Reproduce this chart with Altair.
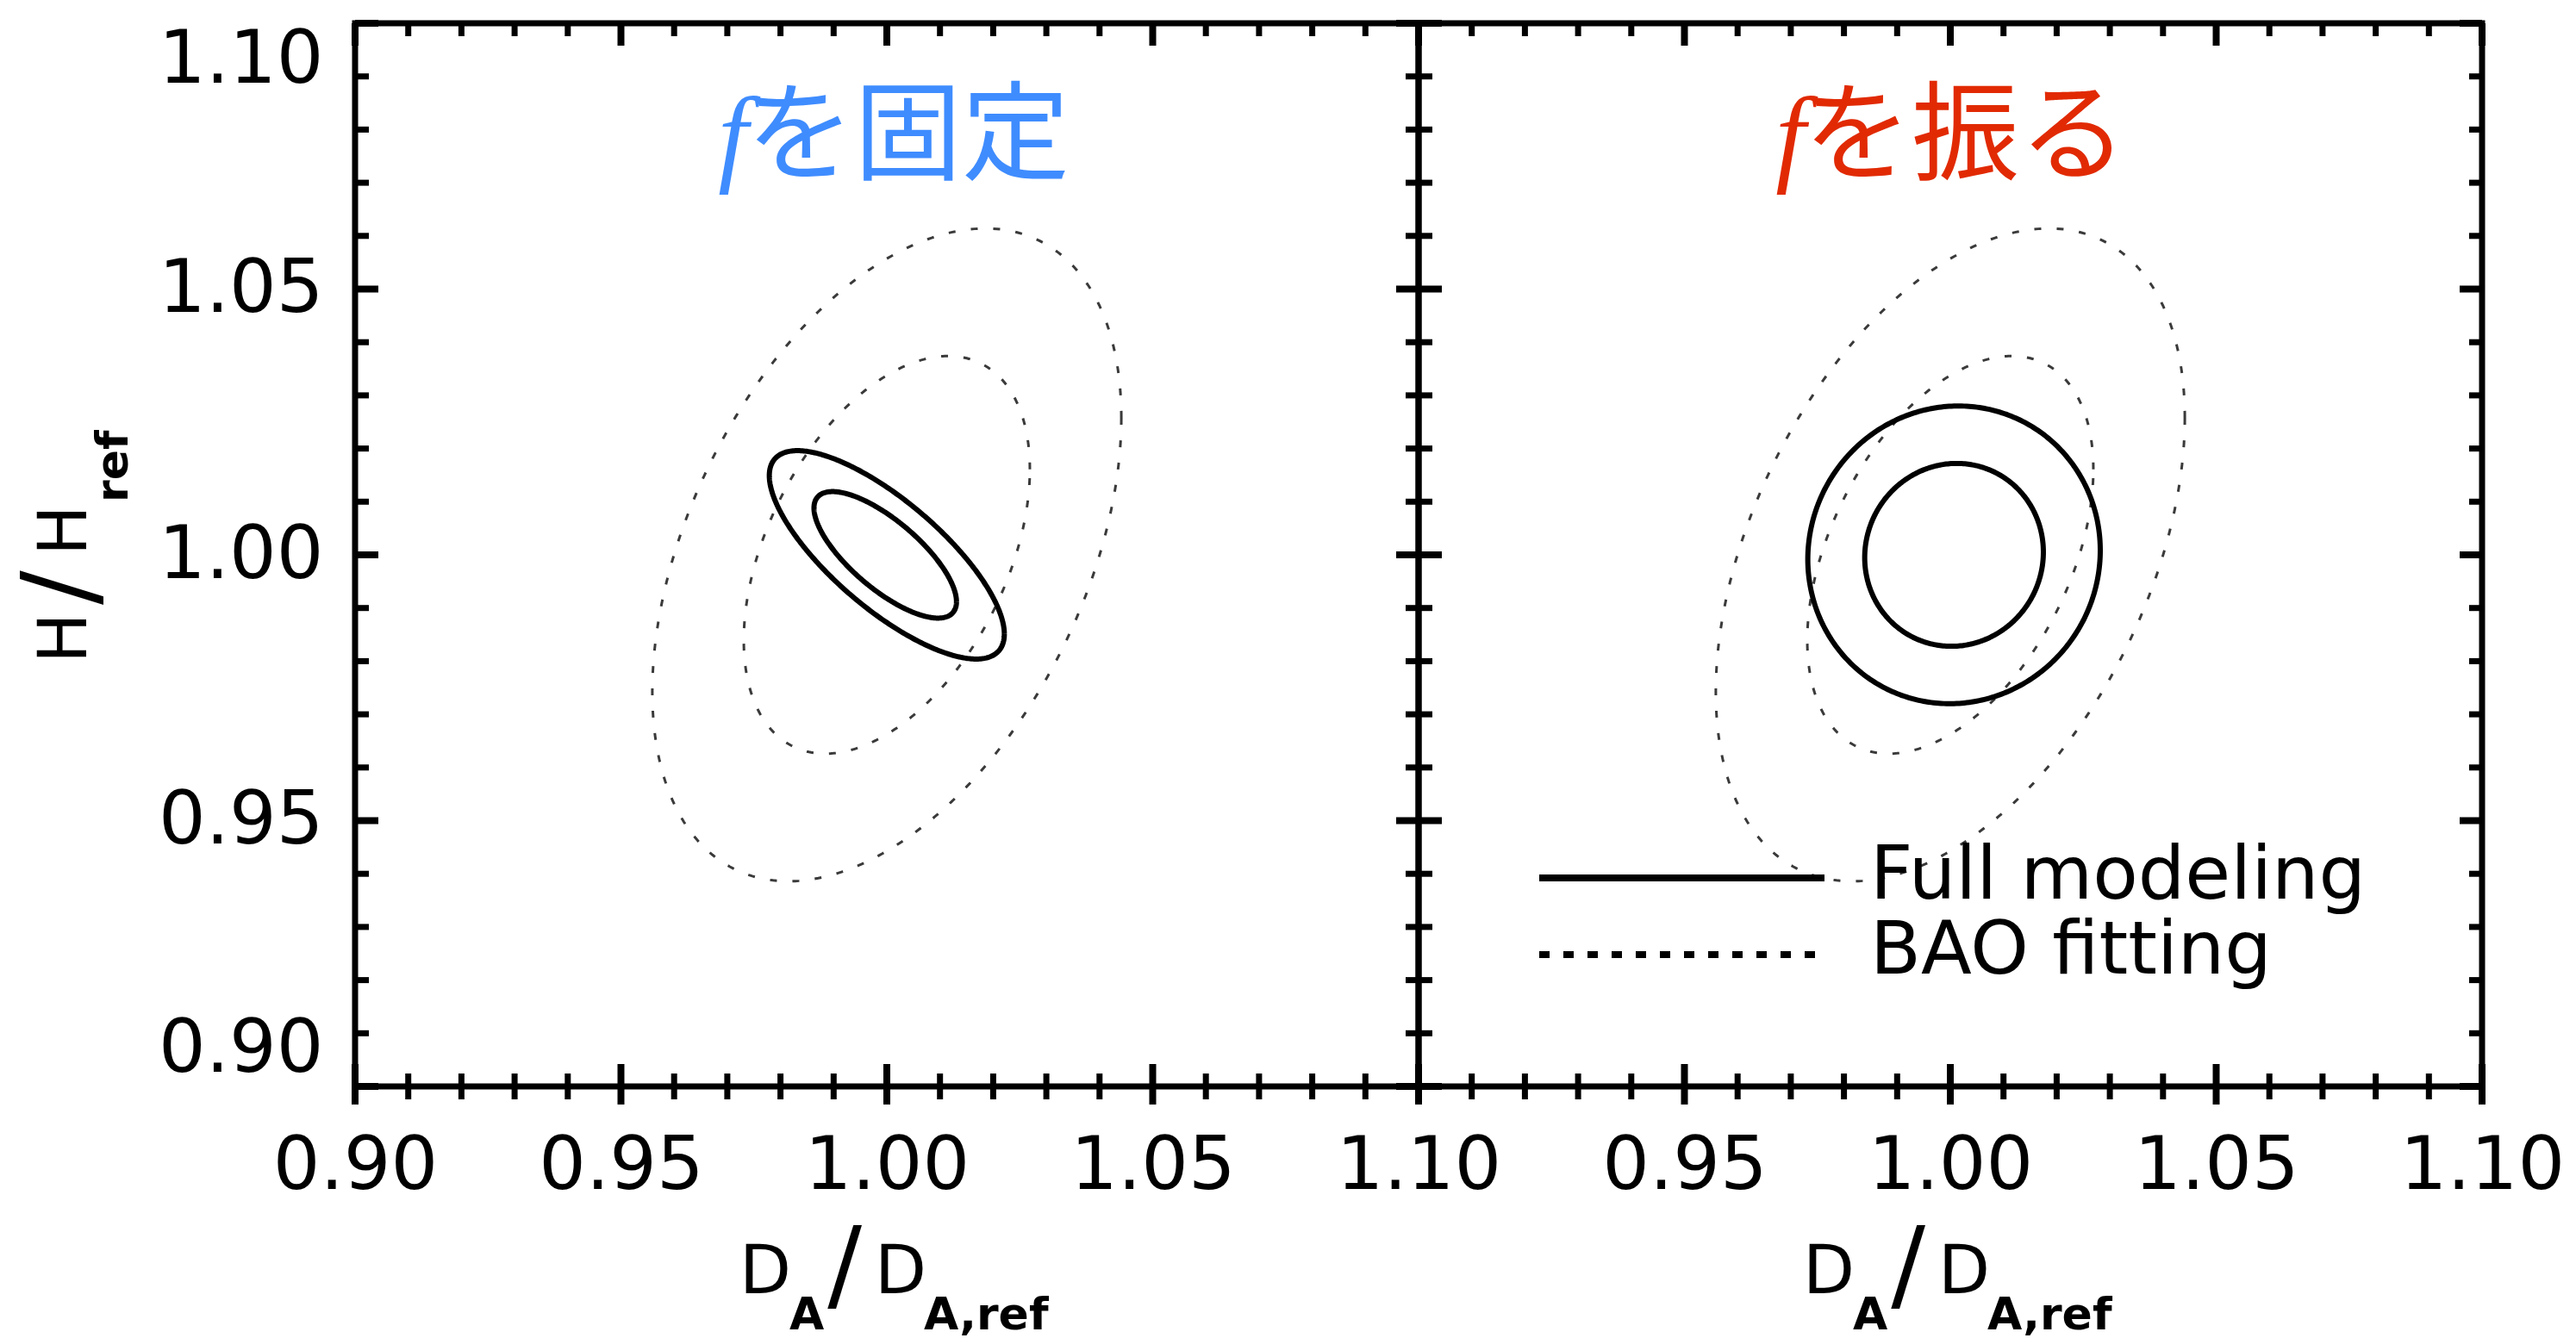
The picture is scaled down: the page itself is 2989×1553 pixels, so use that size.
import altair as alt
import pandas as pd

# ---------------- data ----------------
# Confidence contours (centre, half-widths, correlation) for each panel
contour_panel = ["fixed", "fixed", "fixed", "fixed", "varied", "varied", "varied", "varied"]
contour_kind = ["BAO", "BAO", "Full", "Full", "BAO", "BAO", "Full", "Full"]
contour_level = ["outer", "inner", "outer", "inner", "outer", "inner", "outer", "inner"]
contour_cx = [1.000, 1.000, 1.000, 0.9997, 1.000, 1.000, 1.0007, 1.0007]
contour_cy = [1.000, 1.000, 1.000, 1.000, 1.000, 1.000, 1.000, 1.000]
contour_sx = [0.0441, 0.0269, 0.0221, 0.0134, 0.0441, 0.0269, 0.0275, 0.0168]
contour_sy = [0.0614, 0.0374, 0.0196, 0.0119, 0.0614, 0.0374, 0.0280, 0.0172]
contour_rho = [0.42, 0.43, -0.76, -0.74, 0.42, 0.43, 0.03, 0.03]

major_ticks = [0.90, 0.95, 1.00, 1.05, 1.10]
minor_ticks = [0.91, 0.92, 0.93, 0.94, 0.96, 0.97, 0.98, 0.99,
               1.01, 1.02, 1.03, 1.04, 1.06, 1.07, 1.08, 1.09]
x_labels_left = [0.90, 0.95, 1.00, 1.05, 1.10]
x_labels_right = [0.95, 1.00, 1.05, 1.10]
y_labels = [0.90, 0.95, 1.00, 1.05, 1.10]

panel_title_f = "f"
panel_title_rest = {"fixed": "を固定", "varied": "を振る"}
panel_title_color = {"fixed": "#3f8cff", "varied": "#e12a04"}
legend_labels = ["Full modeling", "BAO fitting"]

# ---------------- layout constants ----------------
W = 1234
H = 1234
FONT = "DejaVu Sans"
LBL = 86
PAD_L, PAD_T = 404, 19

contours = pd.DataFrame({
    "panel": contour_panel, "kind": contour_kind, "level": contour_level,
    "cx": contour_cx, "cy": contour_cy, "sx": contour_sx, "sy": contour_sy,
    "rho": contour_rho,
})
major_df = pd.DataFrame({"v": major_ticks})
minor_df = pd.DataFrame({"v": minor_ticks})

xs = alt.Scale(domain=[0.90, 1.10], nice=False, zero=False)
ys = alt.Scale(domain=[0.90, 1.10], nice=False, zero=False)


def text_layer(txt, x, y, size, font=FONT, color="black", align="left",
               baseline="alphabetic", angle=0, weight="normal", style="normal"):
    return alt.Chart(pd.DataFrame({"t": [txt]})).mark_text(
        font=font, fontSize=size, color=color, align=align, baseline=baseline,
        angle=angle, fontWeight=weight, fontStyle=style,
    ).encode(x=alt.value(x), y=alt.value(y), text="t:N")


def panel(name, show_y):
    xax = alt.Axis(values=x_labels_left if name == "fixed" else x_labels_right,
                   format=".2f", title=None, labelPadding=50, labelFlush=False)
    yax = alt.Axis(values=y_labels, format=".2f", title=None, labelPadding=37,
                   labelFlush=True) if show_y else None

    base = alt.Chart(contours).transform_filter(
        alt.datum.panel == name
    ).transform_calculate(
        deg="sequence(0, 361, 1)"
    ).transform_flatten(["deg"]).transform_calculate(
        th="datum.deg * PI / 180",
        px="datum.cx + datum.sx * cos(datum.th)",
        py="datum.cy + datum.sy * (datum.rho * cos(datum.th) + sqrt(1 - datum.rho * datum.rho) * sin(datum.th))",
        cid="datum.kind + '-' + datum.level",
    )
    enc = dict(
        x=alt.X("px:Q", scale=xs, axis=xax),
        y=alt.Y("py:Q", scale=ys, axis=yax),
        detail="cid:N",
        order="deg:Q",
    )
    bao = base.transform_filter(alt.datum.kind == "BAO").mark_line(
        stroke="#3a3a3a", strokeWidth=3, strokeDash=[8, 18]
    ).encode(**enc)
    full = base.transform_filter(alt.datum.kind == "Full").mark_line(
        stroke="black", strokeWidth=6
    ).encode(**enc)

    layers = [bao, full]

    # inward tick marks on all four sides (plus outer part at bottom)
    for df, lin, lout, sw in [(major_df, 26, 21, 8), (minor_df, 15, 15, 7)]:
        layers.append(alt.Chart(df).mark_rule(color="black", strokeWidth=sw).encode(
            x=alt.X("v:Q", scale=xs, axis=xax), y=alt.value(0), y2=alt.value(lin)))
        layers.append(alt.Chart(df).mark_rule(color="black", strokeWidth=sw).encode(
            x=alt.X("v:Q", scale=xs, axis=xax), y=alt.value(H - lin), y2=alt.value(H + lout)))
        layers.append(alt.Chart(df).mark_rule(color="black", strokeWidth=sw).encode(
            y=alt.Y("v:Q", scale=ys, axis=yax), x=alt.value(0), x2=alt.value(lin + 1)))
        layers.append(alt.Chart(df).mark_rule(color="black", strokeWidth=sw).encode(
            y=alt.Y("v:Q", scale=ys, axis=yax), x=alt.value(W - lin), x2=alt.value(W)))

    # panel title: italic f + Japanese text
    anchor = 454 if name == "fixed" else 447
    col = panel_title_color[name]
    layers.append(text_layer(panel_title_f, anchor + 2, 172, 125, font="Liberation Serif",
                             color=col, align="right", style="italic"))
    layers.append(text_layer(panel_title_rest[name], anchor, 172, 125,
                             font="Noto Sans CJK JP", color=col, align="left"))

    # x-axis title  D_A / D_A,ref
    layers.append(text_layer("D", 446, 1474, 78))
    layers.append(text_layer("A", 504, 1516, 52, weight="bold"))
    layers.append(text_layer("/", 568, 1446, 118, align="center", baseline="middle"))
    layers.append(text_layer("D", 603, 1474, 78))
    layers.append(text_layer("A,ref", 660, 1516, 52, weight="bold"))

    if show_y:
        # y-axis title  H / H_ref (rotated)
        layers.append(text_layer("H", -312, 743, 78, angle=270))
        layers.append(text_layer("/", -338, 655, 118, angle=270, align="center", baseline="middle"))
        layers.append(text_layer("H", -312, 618, 78, angle=270))
        layers.append(text_layer("ref", -264, 556, 52, angle=270, weight="bold"))
    else:
        # legend
        legend_y = [992, 1081]
        layers.append(alt.Chart(pd.DataFrame({"t": [legend_labels[0]]})).mark_rule(
            color="black", strokeWidth=8).encode(
            x=alt.value(140), x2=alt.value(471), y=alt.value(legend_y[0])))
        layers.append(alt.Chart(pd.DataFrame({"t": [legend_labels[1]]})).mark_rule(
            color="black", strokeWidth=8, strokeDash=[12, 16]).encode(
            x=alt.value(140), x2=alt.value(466), y=alt.value(legend_y[1])))
        layers.append(text_layer(legend_labels[0], 524, 1016, LBL))
        layers.append(text_layer(legend_labels[1], 524, 1103, LBL))

    return alt.layer(*layers).properties(width=W, height=H)


# autosize "none": the svg size is padding only (concat has no top-level width),
# so the right / bottom padding carry the panels' size.
chart = alt.hconcat(
    panel("fixed", True), panel("varied", False), spacing=0, bounds="flush"
).properties(
    padding={"left": PAD_L, "top": PAD_T, "right": 2 * W + 97, "bottom": H + 292},
    autosize=alt.AutoSizeParams(type="none"),
).configure_view(
    stroke="black", strokeWidth=7
).configure_axis(
    domain=False, ticks=False, tickSize=0, grid=False, labelLimit=0,
    labelFont=FONT, labelFontSize=LBL, labelColor="black",
)

chart.save("out.html", embed_options={"renderer": "svg", "actions": False})
